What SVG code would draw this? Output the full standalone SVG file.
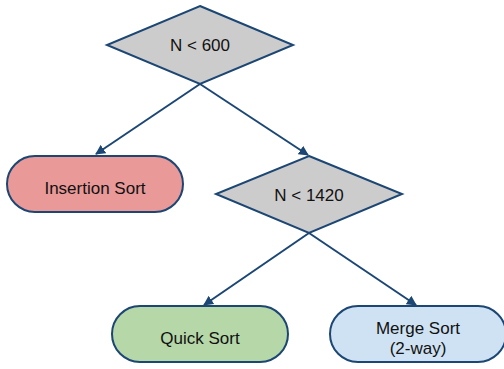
<svg xmlns="http://www.w3.org/2000/svg" width="504" height="369" viewBox="0 0 504 369">
<style>
.dec{fill:#cccccc;stroke:#1c4673;stroke-width:2}
.term{stroke:#1c4673;stroke-width:2}
.lbl{font-family:"Liberation Sans",Arial,sans-serif;font-size:17px;fill:#111;text-anchor:middle;dominant-baseline:central}
.con{stroke:#1c4673;stroke-width:2;fill:none;marker-end:url(#arr)}
</style>
<defs>
<marker id="arr" viewBox="0 0 10 10" refX="9" refY="5" markerWidth="5" markerHeight="5" orient="auto" markerUnits="strokeWidth">
<path d="M0,0 L10,5 L0,10 z" fill="#1c4673"/>
</marker>
</defs>
<g id="connectors">
<line class="con" x1="200" y1="84" x2="96" y2="154"/>
<line class="con" x1="200" y1="84" x2="308" y2="155"/>
<line class="con" x1="309" y1="233" x2="204" y2="305"/>
<line class="con" x1="309" y1="233" x2="416" y2="305"/>
</g>
<g id="n600">
<polygon class="dec" points="200,6 293,45 200,84 107,45"/>
<text class="lbl" x="200" y="45">N &lt; 600</text>
</g>
<g id="insertion">
<rect class="term" x="7" y="156" width="176" height="56" rx="28" fill="#ea9999"/>
<text class="lbl" x="95" y="188">Insertion Sort</text>
</g>
<g id="n1420">
<polygon class="dec" points="309,156 402,194 309,233 216,194"/>
<text class="lbl" x="309" y="195">N &lt; 1420</text>
</g>
<g id="quick">
<rect class="term" x="112" y="306" width="176" height="56" rx="28" fill="#b6d7a8"/>
<text class="lbl" x="200" y="338">Quick Sort</text>
</g>
<g id="merge">
<rect class="term" x="330" y="306" width="176" height="56" rx="28" fill="#cfe2f3"/>
<text class="lbl" x="418" y="328">Merge Sort</text>
<text class="lbl" x="418" y="348">(2-way)</text>
</g>
</svg>
